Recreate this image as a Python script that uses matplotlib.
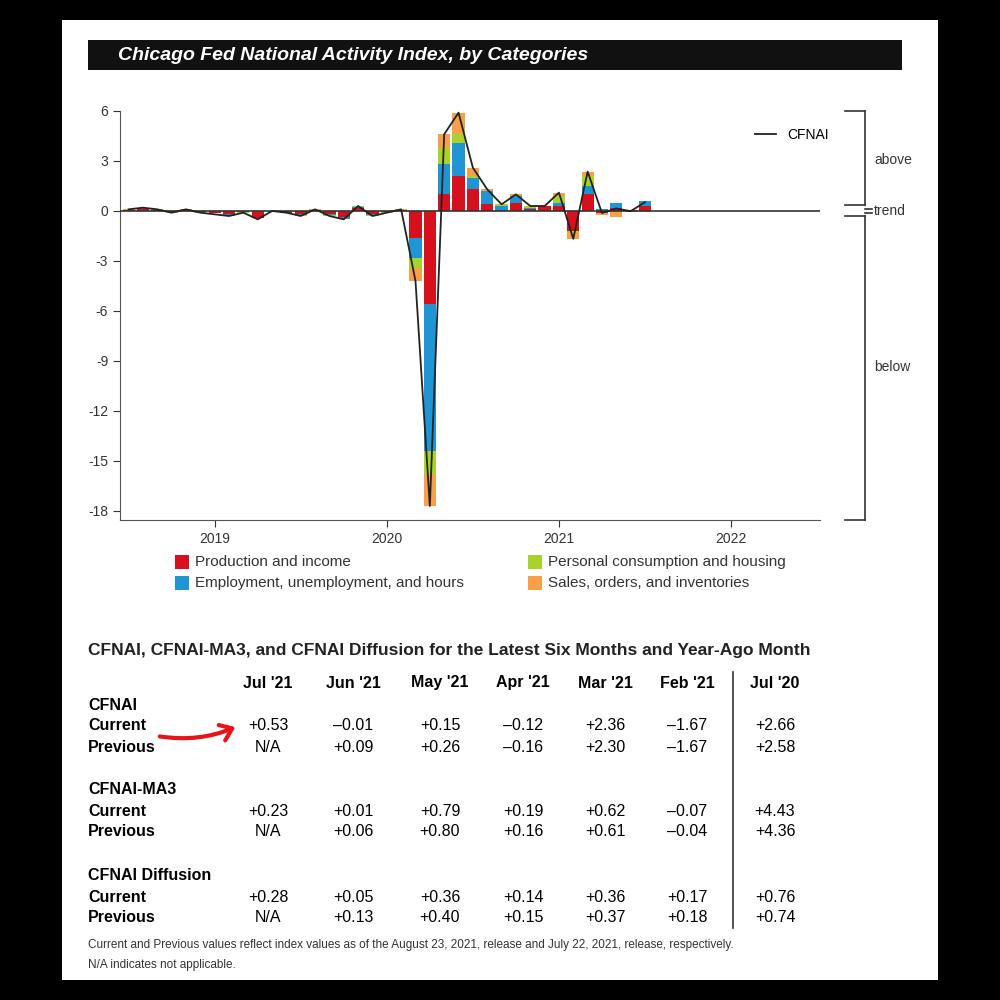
import numpy as np
import matplotlib.pyplot as plt
from matplotlib.patches import Rectangle, FancyArrowPatch

# monthly data, Jul 2018 .. Jul 2021 (index 0 = Jan 2019)
months = np.arange(-6, 31)
cfnai = [0.1, 0.2, 0.1, -0.1, 0.1, -0.1,
         -0.2, -0.3, -0.1, -0.5, 0.0, -0.1, -0.3, 0.1, -0.3, -0.5, 0.3, -0.3,
         -0.1, 0.1, -4.2, -17.7, 4.6, 5.9, 2.6, 1.3, 0.4, 1.0, 0.3, 0.3,
         1.1, -1.67, 2.36, -0.12, 0.15, -0.01, 0.53]
prod = [0.05, 0.15, 0.05, -0.05, 0.05, -0.05,
        -0.1, -0.2, -0.05, -0.4, 0.0, -0.1, -0.2, 0.05, -0.2, -0.35, 0.2, -0.2,
        -0.05, 0.05, -1.6, -5.6, 1.0, 2.1, 1.3, 0.4, 0.05, 0.5, 0.1, 0.3,
        0.3, -1.2, 1.0, -0.1, 0.2, 0.05, 0.3]
empl = [0.03, 0.03, 0.03, -0.03, 0.03, -0.03,
        -0.05, -0.05, -0.03, -0.05, 0.0, 0.0, -0.05, 0.03, -0.05, -0.1, 0.05, -0.05,
        -0.03, 0.03, -1.2, -8.8, 1.8, 2.0, 0.7, 0.8, 0.25, 0.4, 0.1, 0.0,
        0.2, 0.0, 0.5, 0.1, 0.3, 0.0, 0.3]
cons = [0.01, 0.01, 0.01, -0.01, 0.01, -0.01,
        -0.03, -0.03, -0.01, -0.03, 0.0, 0.0, -0.03, 0.01, -0.03, -0.03, 0.03, -0.03,
        -0.01, 0.01, -0.6, -1.4, 1.0, 0.5, 0.1, 0.0, 0.1, 0.0, 0.1, 0.0,
        0.4, -0.1, 0.6, -0.02, 0.0, 0.0, -0.07]
sales = [c - p - e - s for c, p, e, s in zip(cfnai, prod, empl, cons)]

series = [prod, empl, cons, sales]
names = ['Production and income', 'Employment, unemployment, and hours',
         'Personal consumption and housing', 'Sales, orders, and inventories']
colors = ['#d7101e', '#1f95d3', '#a8d42a', '#f7a04a']

years = [2019, 2020, 2021, 2022]

col_heads = ["Jul '21", "Jun '21", "May '21", "Apr '21", "Mar '21", "Feb '21", "Jul '20"]
tbl_cfnai_cur = ['+0.53', '\u20130.01', '+0.15', '\u20130.12', '+2.36', '\u20131.67', '+2.66']
tbl_cfnai_prev = ['N/A', '+0.09', '+0.26', '\u20130.16', '+2.30', '\u20131.67', '+2.58']
tbl_ma3_cur = ['+0.23', '+0.01', '+0.79', '+0.19', '+0.62', '\u20130.07', '+4.43']
tbl_ma3_prev = ['N/A', '+0.06', '+0.80', '+0.16', '+0.61', '\u20130.04', '+4.36']
tbl_diff_cur = ['+0.28', '+0.05', '+0.36', '+0.14', '+0.36', '+0.17', '+0.76']
tbl_diff_prev = ['N/A', '+0.13', '+0.40', '+0.15', '+0.37', '+0.18', '+0.74']

plt.rcParams['font.family'] = 'Liberation Sans'
plt.rcParams['axes.unicode_minus'] = False
fig = plt.figure(figsize=(10, 10), dpi=100, facecolor='black')

def Y(py):
    return 1 - py / 1000.0

# white page and title bar
fig.patches.append(Rectangle((0.062, Y(980)), 0.876, 0.96, transform=fig.transFigure,
                             facecolor='white', edgecolor='none', zorder=-5))
fig.patches.append(Rectangle((0.088, Y(70)), 0.814, 0.03, transform=fig.transFigure,
                             facecolor='#111111', edgecolor='none', zorder=-4))
fig.text(0.118, Y(55), 'Chicago Fed National Activity Index, by Categories', color='white',
         fontsize=14, fontweight='bold', fontstyle='italic', va='center')

ax = fig.add_axes([0.12, Y(520), 0.70, (520 - 111) / 1000.0])
ax.set_zorder(2)
ax.set_facecolor('none')
pos = np.zeros(len(months))
neg = np.zeros(len(months))
for s, n, c in zip(series, names, colors):
    v = np.array(s)
    b = np.where(v >= 0, pos, neg)
    ax.bar(months, v, bottom=b, width=0.85, color=c, label=n, zorder=2)
    pos += np.where(v >= 0, v, 0)
    neg += np.where(v < 0, v, 0)
ax.axhline(0, color='#333333', lw=1.2, zorder=3)
ax.plot(months, cfnai, color='#222222', lw=1.3, label='CFNAI', zorder=4)

ax.set_xlim(-6.6, 42.2)
ax.set_ylim(-18.54, 6)
ax.set_yticks(np.arange(-18, 7, 3))
ax.set_xticks([0, 12, 24, 36])
ax.set_xticklabels([str(y) for y in years])
ax.tick_params(labelsize=10, colors='#333333', length=5)
for sp in ['top', 'right']:
    ax.spines[sp].set_visible(False)
ax.spines['left'].set_color('#555555')
ax.spines['bottom'].set_color('#555555')
ax.legend(handles=[ax.lines[-1]], labels=['CFNAI'], loc='upper right', frameon=False,
          fontsize=10, bbox_to_anchor=(1.03, 0.99), handlelength=1.5)

# right-hand brackets
def fl(x0, y0, x1, y1):
    fig.add_artist(plt.Line2D([x0 / 1000, x1 / 1000], [Y(y0), Y(y1)], color='#333333', lw=1.2))
fl(845, 111, 865, 111); fl(865, 111, 865, 205); fl(845, 205, 865, 205)
fl(845, 216, 865, 216); fl(865, 216, 865, 520); fl(845, 520, 865, 520)
fl(865, 209, 872, 209); fl(865, 213, 872, 213)
fig.text(0.874, Y(160), 'above', fontsize=10, va='center', color='#333333')
fig.text(0.874, Y(211), 'trend', fontsize=10, va='center', color='#333333')
fig.text(0.874, Y(367), 'below', fontsize=10, va='center', color='#333333')

# category legend
leg_pos = [(175, 562), (175, 583), (528, 562), (528, 583)]
for (lx, ly), n, c in zip(leg_pos, names, colors):
    fig.patches.append(Rectangle((lx / 1000, Y(ly + 7)), 0.014, 0.014, transform=fig.transFigure,
                                 facecolor=c, edgecolor='none'))
    fig.text((lx + 20) / 1000, Y(ly), n, fontsize=11, va='center', color='#333333')

# table
fig.text(0.088, Y(650), 'CFNAI, CFNAI-MA3, and CFNAI Diffusion for the Latest Six Months and Year-Ago Month',
         fontsize=12.5, fontweight='bold', va='center', color='#222222', fontstretch='condensed')
col_x = [268, 353, 440, 523, 605, 687, 775]
for x, h in zip(col_x, col_heads):
    fig.text(x / 1000, Y(683), h, fontsize=11.5, fontweight='bold', ha='center', va='center')
blocks = [('CFNAI', 705, tbl_cfnai_cur, tbl_cfnai_prev),
          ('CFNAI-MA3', 790, tbl_ma3_cur, tbl_ma3_prev),
          ('CFNAI Diffusion', 876, tbl_diff_cur, tbl_diff_prev)]
for title, yy, cur, prev in blocks:
    fig.text(0.088, Y(yy), title, fontsize=11.5, fontweight='bold', va='center')
    fig.text(0.088, Y(yy + 21), 'Current', fontsize=11.5, fontweight='bold', va='center')
    fig.text(0.088, Y(yy + 42), 'Previous', fontsize=11.5, fontweight='bold', va='center')
    for x, a, b in zip(col_x, cur, prev):
        fig.text(x / 1000, Y(yy + 21), a, fontsize=11.5, ha='center', va='center')
        fig.text(x / 1000, Y(yy + 42), b, fontsize=11.5, ha='center', va='center')
fl(733, 672, 733, 928)
fig.text(0.088, Y(945), 'Current and Previous values reflect index values as of the August 23, 2021, release and July 22, 2021, release, respectively.',
         fontsize=8.5, va='center', color='#333333', fontstretch='condensed')
fig.text(0.088, Y(965), 'N/A indicates not applicable.', fontsize=8.5, va='center', color='#333333')

fig.add_artist(FancyArrowPatch((0.157, Y(736)), (0.238, Y(726)), transform=fig.transFigure,
                               connectionstyle='arc3,rad=0.15', arrowstyle='->,head_width=6,head_length=8',
                               color='#e8141a', lw=3))

fig.savefig('out.png', dpi=100, facecolor='black')
